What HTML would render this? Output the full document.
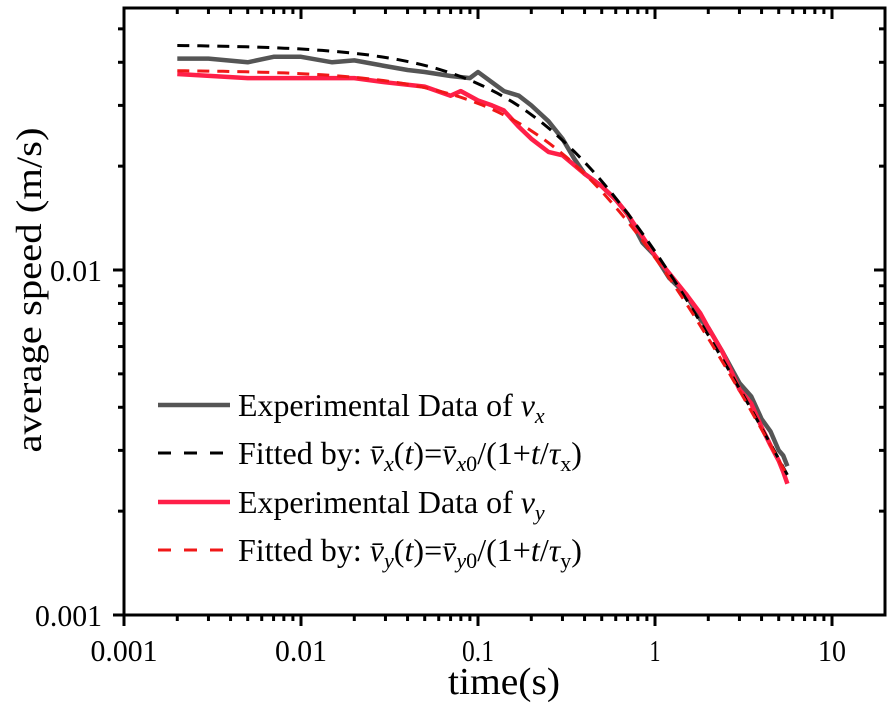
<!DOCTYPE html>
<html><head><meta charset="utf-8"><style>
body{margin:0;background:#fff}
text{font-family:"Liberation Serif",serif;fill:#000}
</style></head><body>
<svg id="chart" width="892" height="708" viewBox="0 0 892 708" xmlns="http://www.w3.org/2000/svg">
<g id="grid"></g>
<g id="series"></g>
<g id="legend"></g>
<text x="504" y="694" font-size="38" text-anchor="middle" textLength="112" lengthAdjust="spacingAndGlyphs">time(s)</text>
<text transform="translate(41,290) rotate(-90)" font-size="36" text-anchor="middle" textLength="325" lengthAdjust="spacingAndGlyphs">average speed (m/s)</text>
</svg>
<script>
const xTickVals=[0.001,0.01,0.1,1,10];
const xTickLabels=["0.001","0.01","0.1","1","10"];
const yTickVals=[0.001,0.01];
const yTickLabels=["0.001","0.01"];
const gxT=[0.002,0.003,0.005,0.007,0.01,0.015,0.02,0.03,0.04,0.05,0.07,0.09,0.1,0.12,0.14,0.17,0.2,0.25,0.3,0.35,0.4,0.5,0.6,0.7,0.85,1,1.2,1.5,1.8,2,2.4,3,3.5,4,4.5,5,5.3,5.6];
const gxV=[0.041,0.041,0.040,0.0415,0.0415,0.040,0.0405,0.039,0.038,0.0375,0.0365,0.036,0.0375,0.035,0.033,0.032,0.03,0.027,0.024,0.021,0.019,0.0175,0.016,0.0145,0.012,0.011,0.0095,0.0085,0.0072,0.0068,0.0058,0.0047,0.0043,0.0037,0.0034,0.003,0.0029,0.0027];
const ryT=[0.002,0.005,0.01,0.02,0.03,0.05,0.07,0.08,0.1,0.12,0.14,0.17,0.2,0.25,0.3,0.4,0.5,0.6,0.7,0.85,1,1.2,1.5,1.8,2,2.4,3,3.5,4,4.5,5,5.3,5.6];
const ryV=[0.037,0.036,0.036,0.036,0.035,0.034,0.032,0.033,0.031,0.030,0.029,0.026,0.024,0.022,0.0215,0.019,0.0175,0.016,0.0145,0.0125,0.011,0.0098,0.0085,0.0075,0.0068,0.0058,0.0045,0.0041,0.0035,0.0031,0.0028,0.0026,0.0024];
const fitX=[0.045,0.336];
const fitY=[0.038,0.40];
const L=124,R=885,T=8,B=615;
const X=v=>124+(Math.log10(v)+3)*177;
const Y=v=>B-(Math.log10(v)+3)*345;
const NS="http://www.w3.org/2000/svg";
const svg=document.getElementById('chart');
function mk(tag,at,parent){const e=document.createElementNS(NS,tag);for(const k in at)e.setAttribute(k,at[k]);(parent||svg).appendChild(e);return e;}
const g=document.getElementById('grid');
const fr=mk('rect',{x:L,y:T,width:R-L,height:B-T,fill:'none',stroke:'#000','stroke-width':3},g);


for(let d=-3;d<=1;d++){for(let m=1;m<10;m++){const v=m*Math.pow(10,d);const x=X(v);if(x>R)continue;const len=m===1?11:6;
const t1=mk('line',{x1:x,x2:x,y1:B,y2:B+len,stroke:'#000','stroke-width':3},g);


const t2=mk('line',{x1:x,x2:x,y1:T,y2:T+len,stroke:'#000','stroke-width':3},g);

}}
const xW=[67,52,32,11,28];
xTickVals.forEach((v,i)=>{const t=mk('text',{x:X(v),y:661,'font-size':31,'text-anchor':'middle',textLength:xW[i],lengthAdjust:'spacingAndGlyphs'},g);t.textContent=xTickLabels[i];

});
for(let d=-3;d<=-2;d++){for(let m=1;m<10;m++){const v=m*Math.pow(10,d);const y=Y(v);if(y<T)continue;const len=m===1?11:6;
const t1=mk('line',{x1:L-len,x2:L,y1:y,y2:y,stroke:'#000','stroke-width':3},g);


const t2=mk('line',{x1:R-len,x2:R,y1:y,y2:y,stroke:'#000','stroke-width':3},g);

}}
const yW=[67,52];
yTickVals.forEach((v,i)=>{const t=mk('text',{x:102,y:Y(v)+11,'font-size':31,'text-anchor':'end',textLength:yW[i],lengthAdjust:'spacingAndGlyphs'},g);t.textContent=yTickLabels[i];

});
const s=document.getElementById('series');
function pts(ts,vs){return ts.map((t,i)=>X(t).toFixed(1)+','+Y(vs[i]).toFixed(1)).join(' ');}
function fitPts(p){const ts=[];for(let k=0;k<=80;k++){ts.push(0.002*Math.pow(5.6/0.002,k/80));}return pts(ts,ts.map(t=>p[0]/(1+t/p[1])));}
const l1=mk('polyline',{points:pts(gxT,gxV),fill:'none',stroke:'#555','stroke-width':4.5,'stroke-linejoin':'round'},s);


const l2=mk('polyline',{points:pts(ryT,ryV),fill:'none',stroke:'#ff1f48','stroke-width':4.5,'stroke-linejoin':'round'},s);


const l3=mk('polyline',{points:fitPts(fitX),fill:'none',stroke:'#000','stroke-width':3,'stroke-dasharray':'12 8'},s);


const l4=mk('polyline',{points:fitPts(fitY),fill:'none',stroke:'#f01818','stroke-width':3,'stroke-dasharray':'12 8'},s);


const lg=document.getElementById('legend');
const sub=(c)=>'<tspan font-style="italic" font-size="22" dy="7">'+c+'</tspan>';
const items=[
 {y:405,c:'#555',d:null,w:4.5,W:307,h:'Experimental Data of <tspan font-style="italic">v</tspan>'+sub('x')},
 {y:453,c:'#000',d:'13 13',w:3,W:344,h:'Fitted by: <tspan font-style="italic">v̄</tspan>'+sub('x')+'<tspan dy="-7">(</tspan><tspan font-style="italic">t</tspan>)=<tspan font-style="italic">v̄</tspan>'+sub('x')+'<tspan font-size="22">0</tspan><tspan dy="-7">/(1+</tspan><tspan font-style="italic">t</tspan>/<tspan font-style="italic">τ</tspan><tspan font-size="22" dy="7">x</tspan><tspan dy="-7">)</tspan>'},
 {y:502,c:'#ff1f48',d:null,w:4.5,W:307,h:'Experimental Data of <tspan font-style="italic">v</tspan>'+sub('y')},
 {y:550,c:'#f01818',d:'13 13',w:3,W:344,h:'Fitted by: <tspan font-style="italic">v̄</tspan>'+sub('y')+'<tspan dy="-7">(</tspan><tspan font-style="italic">t</tspan>)=<tspan font-style="italic">v̄</tspan>'+sub('y')+'<tspan font-size="22">0</tspan><tspan dy="-7">/(1+</tspan><tspan font-style="italic">t</tspan>/<tspan font-style="italic">τ</tspan><tspan font-size="22" dy="7">y</tspan><tspan dy="-7">)</tspan>'}
];
items.forEach(it=>{
 const ln=mk('line',{x1:158,x2:230,y1:it.y,y2:it.y,stroke:it.c,'stroke-width':it.w},lg);
 if(it.d)ln.setAttribute('stroke-dasharray',it.d);
 
 
 const t=mk('text',{x:238,y:it.y+11,'font-size':32},lg);t.innerHTML=it.h;
 
 
 const bw=t.getBBox().width;
 if(bw>0)t.setAttribute('transform','translate(238,0) scale('+(it.W/bw)+',1) translate(-238,0)');
});
</script>
</body></html>
